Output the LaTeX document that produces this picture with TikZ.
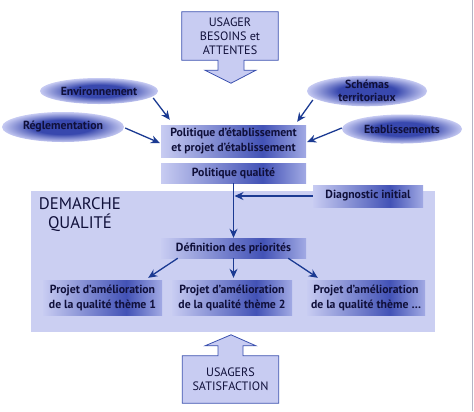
\documentclass[tikz,border=0pt]{standalone}
\usepackage{fontspec}
\setmainfont{PT Sans}
\usepackage{tikz}
\usetikzlibrary{calc, positioning, shapes.geometric, arrows.meta, backgrounds}
\definecolor{bgPanel}{HTML}{CBCFF2}
\definecolor{boxLight}{HTML}{C8CCF2}
\definecolor{boxMid}{HTML}{A2AAE4}
\definecolor{boxDark}{HTML}{4252B6}
\definecolor{ellLight}{HTML}{C6CAF2}
\definecolor{ellDark}{HTML}{3848AE}
\definecolor{lineBlue}{HTML}{1B3A92}
\definecolor{frameBlue}{HTML}{3A50AE}
\definecolor{textNavy}{HTML}{10103A}
\definecolor{edgeGrey}{HTML}{B4B4C4}
\pgfdeclarehorizontalshading{boxShade}{100bp}{color(0bp)=(boxLight); color(25bp)=(boxLight); color(60bp)=(boxDark); color(75bp)=(boxMid); color(100bp)=(boxMid)}
\pgfdeclareradialshading{ellShade}{\pgfpoint{0bp}{0bp}}{color(0bp)=(ellDark); color(12bp)=(ellDark); color(25bp)=(ellLight); color(50bp)=(ellLight)}

\begin{document}
\begin{tikzpicture}[x=1bp, y=-1bp,
    boxNode/.style={shading=boxShade, text=textNavy, align=center, inner sep=0pt,
      font=\bfseries\fontsize{11.8}{15}\selectfont},
    ellNode/.style={ellipse, shading=ellShade, text=textNavy, align=center, inner sep=0pt,
      font=\bfseries\fontsize{11.8}{13}\selectfont},
    bigBox/.style={text=textNavy, align=center, inner sep=0pt, minimum width=96bp,
      font=\fontsize{12.2}{14}\selectfont},
    bigArrow/.style={draw=frameBlue, fill=boxLight, line width=0.8bp, line join=miter},
    flowArrow/.style={draw=lineBlue, line width=1.3bp, -{Stealth[length=9bp, width=8bp]}}]
  \useasboundingbox (0,0) rectangle (474,411);
  \draw[edgeGrey, line width=1bp] (472,0) -- (472,411);

  % demarche qualite panel
  \node[fill=bgPanel, minimum width=404bp, minimum height=141bp, inner sep=0pt] (panel) at (233,261.5) {};
  \node[anchor=north west, align=center, text=textNavy, inner sep=0pt,
        font=\fontsize{16.8}{19}\selectfont] (demarche) at ($(panel.north west)+(8,7)$) {DEMARCHE\\QUALITÉ};

  % usagers, top and bottom
  \node[bigBox, minimum height=48bp] (usager) at (230,36) {USAGER\\BESOINS et\\ATTENTES};
  \node[bigBox, minimum height=47bp] (satisf) at (230.5,379.5) {USAGERS\\SATISFACTION};
  \begin{scope}[on background layer]
    \draw[bigArrow] (usager.north west) -- (usager.north east) -- (usager.south east)
      -- ($(usager.south)+(14,0)$) -- ++(0,10) -- ++(12,0) -- ($(usager.south)+(1,23)$)
      -- ($(usager.south)+(-25,10)$) -- ++(13,0) -- ++(0,-10) -- (usager.south west) -- cycle;
    \draw[bigArrow] (satisf.south west) -- (satisf.south east) -- (satisf.north east)
      -- ($(satisf.north)+(12.5,0)$) -- ++(0,-10) -- ++(13,0) -- ($(satisf.north)+(0.5,-21)$)
      -- ($(satisf.north)+(-25.5,-10)$) -- ++(13,0) -- ++(0,10) -- (satisf.north west) -- cycle;
  \end{scope}

  % influences
  \node[ellNode, minimum width=118bp, minimum height=26bp] (env) at (99,91) {Environnement};
  \node[ellNode, minimum width=120bp, minimum height=28bp] (schem) at (367,91) {Schémas\\territoriaux};
  \node[ellNode, minimum width=122bp, minimum height=30bp] (regl) at (63,127) {Réglementation};
  \node[ellNode, minimum width=120bp, minimum height=29bp] (etab) at (402,129) {Etablissements};

  % politique
  \node[boxNode, minimum width=145bp, minimum height=32bp] (pol) at (233.5,141) {Politique d'établissement\\et projet d'établissement};
  \node[boxNode, minimum width=145bp, minimum height=20bp] (qual) at (233.5,173) {Politique qualité};
  \node[boxNode, minimum width=110bp, minimum height=22bp] (diag) at (368,196) {Diagnostic initial};
  \node[boxNode, minimum width=145bp, minimum height=20bp] (def) at (233.5,248) {Définition des priorités};

  % projets
  \node[boxNode, minimum width=119bp, minimum height=35bp] (proj1) at (102.5,297.5) {Projet d'amélioration\\de la qualité thème 1};
  \node[boxNode, minimum width=120bp, minimum height=35bp] (proj2) at (232,297.5) {Projet d'amélioration\\de la qualité thème 2};
  \node[boxNode, minimum width=118bp, minimum height=35bp] (proj3) at (366,297.5) {Projet d'amélioration\\de la qualité thème \dots};

  % connectors
  \draw[flowArrow] ($(env.east)+(-5,7)$) -- ($(pol.north west)+(9,-5)$);
  \draw[flowArrow] ($(regl.east)+(1,1)$) -- ($(pol.west)+(-1,2)$);
  \draw[flowArrow] ($(schem.west)+(6,9)$) -- ($(pol.north east)+(-9,-3)$);
  \draw[flowArrow] ($(etab.west)+(0,-1)$) -- ($(pol.east)+(1,1)$);
  \draw[flowArrow] (qual.south) -- (def.north);
  \draw[flowArrow] (diag.west) -- ($(diag.west -| qual.south)+(1,0)$);
  \draw[flowArrow] ($(def.south west)+(17,0)$) -- ($(proj1.north east)+(-14,-2)$);
  \draw[flowArrow] (def.south) -- ($(proj2.north)+(1.5,-2)$);
  \draw[flowArrow] ($(def.south east)+(-18,0)$) -- ($(proj3.north west)+(11,-2)$);
\end{tikzpicture}
\end{document}
